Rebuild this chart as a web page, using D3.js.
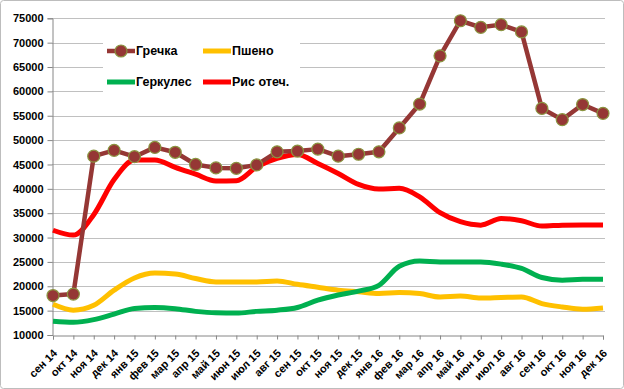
<!DOCTYPE html>
<html lang="ru">
<head>
<meta charset="utf-8">
<title>Цены на крупы</title>
<script src="https://cdn.jsdelivr.net/npm/d3@7/dist/d3.min.js"></script>
<style>
  body { margin: 0; background: #fff; }
  text { font-family: "Liberation Sans", Arial, sans-serif; font-weight: bold; fill: #000; }
</style>
</head>
<body>
<div id="chart"></div>
<script>
var months = ["сен 14","окт 14","ноя 14","дек 14","янв 15","фев 15","мар 15","апр 15","май 15","июн 15",
              "июл 15","авг 15","сен 15","окт 15","ноя 15","дек 15","янв 16","фев 16","мар 16","апр 16",
              "май 16","июн 16","июл 16","авг 16","сен 16","окт 16","ноя 16","дек 16"];

var grechka = [18100, 18400, 46700, 47900, 46600, 48500, 47500, 45000, 44300, 44200,
               44900, 47600, 47750, 48150, 46700, 47100, 47600, 52500, 57400, 67300,
               74500, 73150, 73700, 72200, 56500, 54200, 57300, 55500];
var psheno  = [16300, 15100, 16100, 19200, 21700, 22700, 22500, 21600, 20900, 20900,
               20900, 21100, 20400, 19800, 19200, 18850, 18500, 18700, 18500, 17800,
               18000, 17600, 17700, 17800, 16450, 15750, 15300, 15550];
var gerkules = [12800, 12600, 13150, 14300, 15450, 15650, 15400, 14850, 14550, 14500,
                14850, 15100, 15650, 17150, 18200, 19000, 20200, 24100, 25200, 25000,
                25000, 25000, 24550, 23650, 21800, 21250, 21450, 21450];
var ris = [31500, 30500, 34700, 41900, 45900, 45900, 44400, 43000, 41600, 41650,
           44500, 46250, 47050, 45200, 43150, 40900, 39950, 40100, 38350, 35100,
           33250, 32550, 33900, 33450, 32350, 32550, 32600, 32600];

var yTicks = d3.range(10000, 75001, 5000);

var series = [
  {name: "Гречка",    values: grechka,  color: "#953735", width: 4.5, markers: true},
  {name: "Пшено",     values: psheno,   color: "#FFC000", width: 5,   markers: false},
  {name: "Геркулес",  values: gerkules, color: "#00B050", width: 5,   markers: false},
  {name: "Рис отеч.", values: ris,      color: "#FF0000", width: 5,   markers: false}
];

var W = 624, H = 389;
var svg = d3.select("#chart").append("svg")
  .attr("width", W).attr("height", H);

svg.append("rect")
  .attr("x", 0.5).attr("y", 0.5)
  .attr("width", W - 1).attr("height", H - 1)
  .attr("rx", 3)
  .attr("fill", "#fff").attr("stroke", "#bdbdbd");

var x = d3.scalePoint().domain(months).range([53, 603]);
var y = d3.scaleLinear().domain([10000, 75000]).range([335, 18.3]);

// gridlines
svg.append("g").selectAll("line")
  .data(yTicks.slice(1))
  .enter().append("line")
  .attr("x1", 52).attr("x2", 605)
  .attr("y1", function(d) { return Math.round(y(d)) + 0.5; })
  .attr("y2", function(d) { return Math.round(y(d)) + 0.5; })
  .attr("stroke", "#c0c0c0");

// y axis
var yAxis = d3.axisLeft(y).tickValues(yTicks).tickFormat(d3.format("d")).tickSize(5).tickPadding(4);
var gy = svg.append("g").attr("transform", "translate(52.5,0)").call(yAxis);
gy.select(".domain").attr("stroke", "#868686");
gy.selectAll(".tick line").attr("stroke", "#868686");
gy.selectAll("text").style("font-size", "11px").attr("fill", "#000");

// x axis
var xAxis = d3.axisBottom(x).tickSizeOuter(0).tickSize(4);
var gx = svg.append("g").attr("transform", "translate(0,335.5)").call(xAxis);
gx.select(".domain").attr("stroke", "#868686");
gx.selectAll(".tick line").attr("stroke", "#868686");
gx.selectAll("text")
  .style("font-size", "11px")
  .style("text-anchor", "end")
  .attr("x", 0).attr("y", 0).attr("dx", 0).attr("dy", 0)
  .attr("transform", "translate(4.3,18.5) rotate(-45)");

// lines
var line = d3.line()
  .x(function(d, i) { return x(months[i]); })
  .y(function(d) { return y(d); });

var smooth = d3.line()
  .x(function(d, i) { return x(months[i]); })
  .y(function(d) { return y(d); })
  .curve(d3.curveMonotoneX);

// draw order: yellow, green, red, brown on top
[series[1], series[2], series[3], series[0]].forEach(function(s) {
  svg.append("path")
    .datum(s.values)
    .attr("fill", "none")
    .attr("stroke", s.color)
    .attr("stroke-width", s.width)
    .attr("stroke-linejoin", "round")
    .attr("d", s.markers ? line : smooth);
  if (s.markers) {
    svg.append("g").selectAll("circle")
      .data(s.values)
      .enter().append("circle")
      .attr("cx", function(d, i) { return x(months[i]); })
      .attr("cy", function(d) { return y(d); })
      .attr("r", 6)
      .attr("fill", s.color)
      .attr("stroke", "#8a9440")
      .attr("stroke-width", 1.2);
  }
});

// legend
var legend = svg.append("g");
legend.append("rect")
  .attr("x", 103).attr("y", 33).attr("width", 197).attr("height", 66)
  .attr("fill", "#fff");

var legPos = [[107, 51], [203, 51], [107, 82], [203, 82]];
series.forEach(function(s, i) {
  var g = legend.append("g").attr("transform", "translate(" + legPos[i][0] + "," + legPos[i][1] + ")");
  g.append("line")
    .attr("x1", 0).attr("x2", 28)
    .attr("stroke", s.color)
    .attr("stroke-width", s.width);
  if (s.markers) {
    g.append("circle").attr("cx", 14).attr("r", 6)
      .attr("fill", s.color).attr("stroke", "#8a9440").attr("stroke-width", 1.2);
  }
  g.append("text")
    .attr("x", 29).attr("dy", "0.35em")
    .style("font-size", "12.5px")
    .text(s.name);
});
</script>
</body>
</html>
